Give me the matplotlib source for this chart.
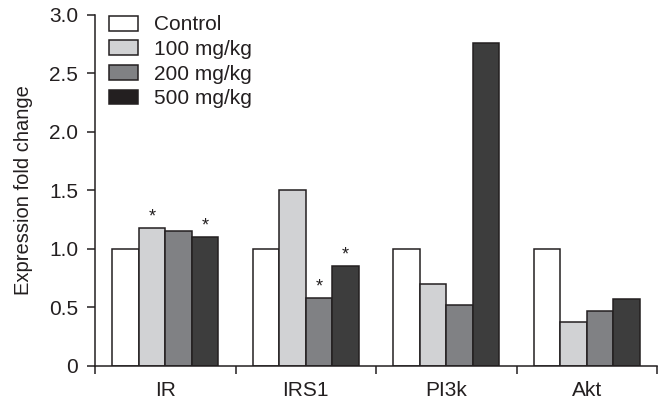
import matplotlib
matplotlib.use("Agg")
import matplotlib.pyplot as plt
import numpy as np
from matplotlib.patches import Patch

plt.rcParams['font.family'] = ['Liberation Sans', 'DejaVu Sans']

categories = ["IR", "IRS1", "PI3k", "Akt"]
series_names = ["Control", "100 mg/kg", "200 mg/kg", "500 mg/kg"]
control = [1.0, 1.0, 1.0, 1.0]
mg100 = [1.18, 1.50, 0.70, 0.37]
mg200 = [1.15, 0.58, 0.52, 0.47]
mg500 = [1.10, 0.85, 2.76, 0.57]
significant = [[False, False, False, False],
               [True, False, False, False],
               [False, True, False, False],
               [True, True, False, False]]
yticks = [0, 0.5, 1.0, 1.5, 2.0, 2.5, 3.0]
ytick_labels = ["0", "0.5", "1.0", "1.5", "2.0", "2.5", "3.0"]

colors = ["#ffffff", "#d1d2d4", "#808184", "#3d3d3d"]
edge = "#231f20"

fig = plt.figure(figsize=(6.64, 4.01), dpi=100)
ax = fig.add_axes([95/664, (401-365.7)/401, (657-95)/664, (365.7-14.7)/401])

series = [control, mg100, mg200, mg500]
n = len(categories)
bw = 0.189
centers = np.arange(n) + 0.5
for i, vals in enumerate(series):
    x = centers + (i - 1.5) * bw
    ax.bar(x, vals, width=bw, color=colors[i], edgecolor=edge, linewidth=1.1, zorder=2)
    for j, v in enumerate(vals):
        if significant[i][j]:
            ax.text(x[j], v + 0.02, "*", ha="center", va="bottom", fontsize=13, color="#231f20")

ax.set_xlim(0, n)
ax.set_ylim(0, 3.0)
ax.set_xticks(np.arange(n + 1))
ax.set_xticklabels([])
ax.set_xticks(centers, minor=True)
ax.set_xticklabels(categories, minor=True, fontsize=15, color="#231f20")
ax.tick_params(axis="x", which="minor", length=0, pad=11)
ax.tick_params(axis="x", which="major", length=6, width=1.1, direction="out", color="#231f20")
ax.set_yticks(yticks)
ax.set_yticklabels(ytick_labels, fontsize=15, color="#231f20")
ax.tick_params(axis="y", length=6, width=1.1, direction="out", color="#231f20", pad=6)
for s in ["top", "right"]:
    ax.spines[s].set_visible(False)
for s in ["left", "bottom"]:
    ax.spines[s].set_linewidth(1.1)
    ax.spines[s].set_color("#231f20")
ax.set_ylabel("Expression fold change", fontsize=14.5, color="#231f20", labelpad=12)

handles = [Patch(facecolor=colors[0], edgecolor=edge, linewidth=1.1),
           Patch(facecolor=colors[1], edgecolor=edge, linewidth=1.1),
           Patch(facecolor=colors[2], edgecolor=edge, linewidth=1.1),
           Patch(facecolor="#231f20", edgecolor=edge, linewidth=1.1)]
leg = ax.legend(handles, series_names, loc="upper left", bbox_to_anchor=(0.025, 0.998),
                frameon=False, fontsize=15, handlelength=1.4, handleheight=0.72,
                labelspacing=0.27, handletextpad=0.75, borderaxespad=0, borderpad=0)
for t in leg.get_texts():
    t.set_color("#231f20")

fig.savefig("out.png", dpi=100)
